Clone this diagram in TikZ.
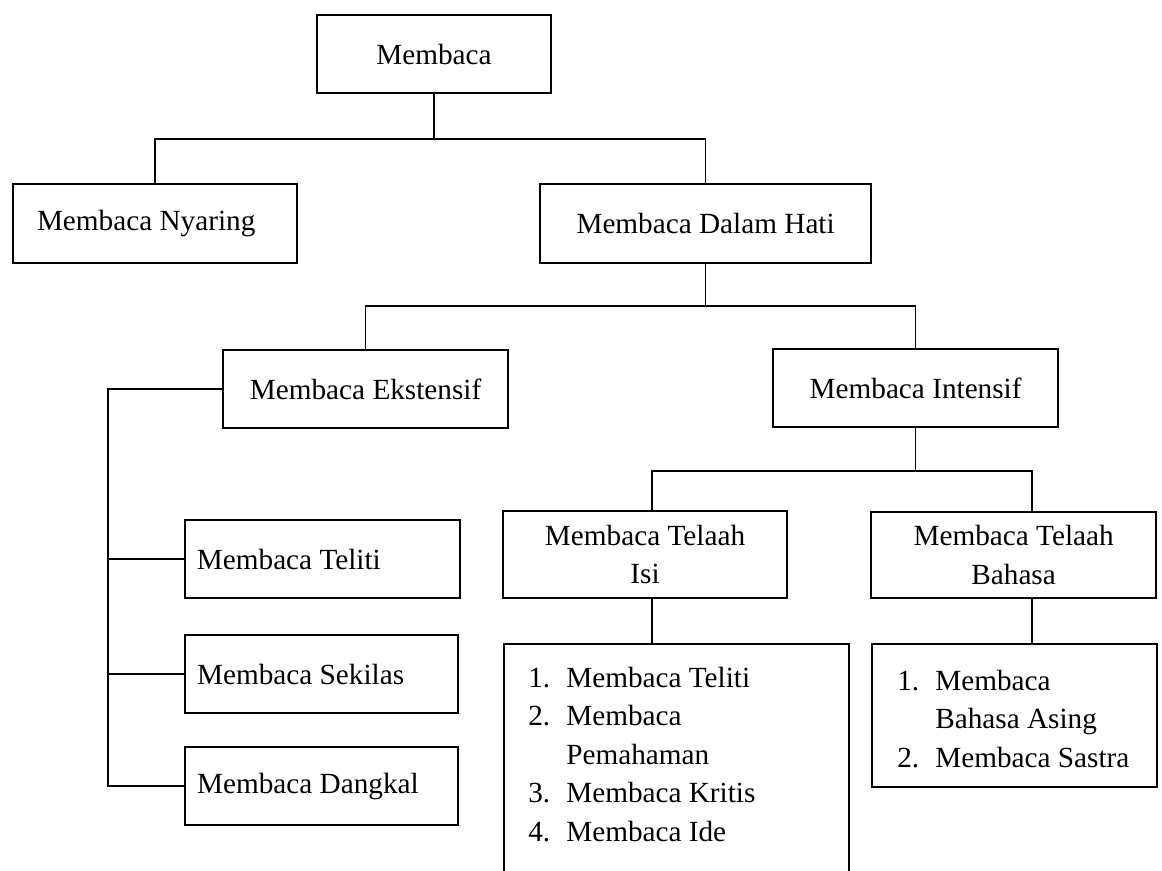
\documentclass[tikz,border=0pt]{standalone}
\usepackage{fontspec}
\setmainfont{Liberation Serif}

\begin{document}
\begin{tikzpicture}[
  box/.style={draw, line width=1.1pt, minimum height=1.95cm, inner sep=0pt,
              font=\fontsize{20.8}{27.4}\selectfont},
  leaf/.style={box, align=flush left, inner xsep=0.3cm},
  lst/.style={draw, line width=1.1pt, anchor=north west, inner sep=0pt},
  lsttext/.style={anchor=base west, inner sep=0pt,
                  font=\fontsize{20.8}{27.4}\selectfont},
  link/.style={line width=1.1pt}
]
\useasboundingbox (0,0) rectangle (29.05,-21.75);
% top
\node[box, minimum width=5.85cm] (memb) at (10.85,-1.35) {Membaca};
% second level
\node[leaf, minimum height=1.975cm, inner xsep=0.6cm, text width=5.9cm]
  (nyar) at (3.875,-5.59) {Membaca Nyaring};
\node[box, minimum width=8.275cm, minimum height=1.975cm]
  (dalam) at (17.64,-5.59) {Membaca Dalam Hati};
% third level
\node[box, minimum width=7.125cm] (ekst) at (9.14,-9.725) {Membaca Ekstensif};
\node[box, minimum width=7.125cm] (inte) at (22.89,-9.7) {Membaca Intensif};
% ekstensif
\node[leaf, text width=6.275cm] (teli) at (8.06,-13.975) {Membaca Teliti};
\node[leaf, text width=6.225cm] (seki) at (8.04,-16.85) {Membaca Sekilas};
\node[leaf, text width=6.225cm] (dang) at (8.04,-19.65) {Membaca Dangkal};
% intensif
\node[box, align=center, minimum width=7.1cm, minimum height=2.175cm]
  (isi) at (16.125,-13.86) {Membaca Telaah\\Isi};
\node[box, align=center, minimum width=7.125cm, minimum height=2.15cm]
  (bhs) at (25.34,-13.875) {Membaca Telaah\\Bahasa};
% lists
\node[lst, minimum width=8.625cm, minimum height=6cm] (isil) at (12.575,-16.075) {};
\node[lsttext] (isitxt) at (13.2,-17.175) {\begin{tabular}[t]{@{}p{0.95cm}@{}l@{}}
  1. & Membaca Teliti\\
  2. & Membaca\\
     & Pemahaman\\
  3. & Membaca Kritis\\
  4. & Membaca Ide
\end{tabular}};
\node[lst, minimum width=7.125cm, minimum height=3.575cm] (bhsl) at (21.775,-16.075) {};
\node[lsttext] (bhstxt) at (22.425,-17.25) {\begin{tabular}[t]{@{}p{0.95cm}@{}l@{}}
  1. & Membaca\\
     & Bahasa Asing\\
  2. & Membaca Sastra
\end{tabular}};

% connectors
\draw[link] (memb.south) -- ++(0,-1.125) coordinate (f1);
\draw[link] (nyar.north) |- (f1) -| (dalam.north);
\draw[link] (dalam.south) -- ++(0,-1.05) coordinate (f2);
\draw[link] (ekst.north) |- (f2) -| (inte.north);
\draw[link] (inte.south) -- ++(0,-1.075) coordinate (f3);
\coordinate (isiin) at ([xshift=0.175cm]isi.north);
\coordinate (bhsin) at ([xshift=0.46cm]bhs.north);
\draw[link] (isiin) |- (f3) -| (bhsin);
\coordinate (isiout) at ([xshift=0.175cm]isi.south);
\coordinate (bhsout) at ([xshift=0.46cm]bhs.south);
\draw[link] (isiout) -- (isiout |- isil.north);
\draw[link] (bhsout) -- (bhsout |- bhsl.north);
% left rail
\coordinate (rail) at (2.7,0);
\draw[link] (ekst.west) -- (ekst.west -| rail) |- (dang.west);
\draw[link] (teli.west) -- (teli.west -| rail);
\draw[link] (seki.west) -- (seki.west -| rail);
\end{tikzpicture}
\end{document}
